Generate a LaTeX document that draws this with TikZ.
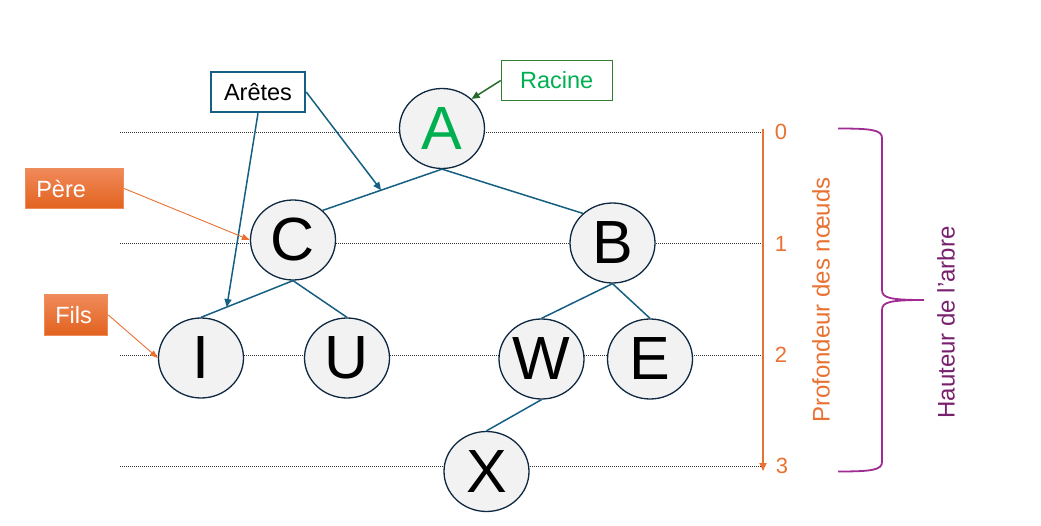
\documentclass[tikz,border=0pt]{standalone}
\usepackage{fontspec}
\setmainfont{Liberation Sans}
\usetikzlibrary{shapes.geometric,arrows.meta}
\definecolor{edgeblue}{HTML}{156082}
\definecolor{nodeborder}{HTML}{0E2841}
\definecolor{nodefill}{HTML}{F2F2F2}
\definecolor{rootgreen}{HTML}{00B050}
\definecolor{boxgreen}{HTML}{2E7D32}
\definecolor{orng}{HTML}{E97132}
\definecolor{orngtop}{HTML}{F08A5A}
\definecolor{orngbot}{HTML}{E2621E}
\definecolor{brace}{HTML}{A02B93}
\definecolor{darkpurple}{HTML}{78206E}
\tikzset{
  treenode/.style={ellipse, draw=nodeborder, line width=1.3pt, fill=nodefill,
    minimum width=85pt, minimum height=80pt, inner sep=0pt,
    font=\fontsize{61}{72}\selectfont},
  edge/.style={draw=edgeblue, line width=1.5pt},
  levelline/.style={draw=black!80, line width=1pt, dash pattern=on 1pt off 1pt},
  orangebox/.style={draw=orng!80!white, line width=0.8pt, top color=orngtop, bottom color=orngbot,
    text=white, font=\fontsize{23.5}{27}\selectfont, align=left, inner xsep=11pt,
    inner ysep=0pt, minimum height=40.5pt, anchor=center},
  orangearrow/.style={draw=orng, line width=0.9pt, -{Triangle[length=8pt,width=6pt]}},
  bluearrow/.style={draw=edgeblue, line width=1.5pt, -{Triangle[length=8pt,width=7pt]}},
  label23/.style={font=\fontsize{23.5}{27}\selectfont},
  depthnum/.style={text=orng, font=\fontsize{22}{26}\selectfont},
}
\begin{document}
\begin{tikzpicture}[x=1pt,y=-1pt]
\useasboundingbox (0,0) rectangle (1041,526);
% level lines
\foreach \yy/\nm in {132.5/0,244/1,355.5/2,466.5/3}{
  \coordinate (L\nm a) at (120,\yy);
  \coordinate (L\nm b) at (763,\yy);
  \draw[levelline] (L\nm a) -- (L\nm b);
}
% tree nodes
\node[treenode, text=rootgreen] (A) at (442,128.5) {A};
\node[treenode] (C) at (293,240) {C};
\node[treenode] (B) at (612.5,243) {B};
\node[treenode] (I) at (201,358) {I};
\node[treenode] (U) at (347,358) {U};
\node[treenode] (W) at (541.5,359) {W};
\node[treenode] (E) at (650,359) {E};
\node[treenode] (X) at (486.5,471.5) {X};
% edges
\draw[edge] (A.south) -- coordinate[pos=0.51] (mAC) (C.45);
\draw[edge] (A.south) -- (B.135);
\draw[edge] (C.south) -- coordinate[pos=0.72] (mCI) (I.north);
\draw[edge] (C.south) -- (U.north);
\draw[edge] (B.south) -- (W.north);
\draw[edge] (B.south) -- (E.north);
\draw[edge] (W.south) -- (X.north);
% Racine
\node[draw=boxgreen, line width=1pt, text=rootgreen, label23, minimum width=111pt, minimum height=40.5pt, inner sep=0pt] (rac) at (556.7,80.5) {Racine};
\draw[draw=boxgreen!85!black, line width=1.5pt, -{Triangle[length=8pt,width=7pt]}] (rac.west) -- (A.45);
% Aretes
\node[draw=edgeblue, line width=2pt, label23, minimum width=94.5pt, minimum height=40.5pt, inner sep=0pt] (are) at (258,92) {Arêtes};
\draw[bluearrow] (are.south) -- (mCI);
\draw[bluearrow] (are.east) -- (mAC);
% Pere / Fils
\node[orangebox, text width=76.4pt] (pere) at (74.5,188.5) {Père};
\node[orangebox, text width=41.4pt] (fils) at (76,314.8) {Fils};
\draw[orangearrow] (pere.east) -- (C.west);
\draw[orangearrow] (fils.east) -- (I.west);
% depth axis
\coordinate (ax0) at (763,129);
\coordinate (ax1) at (763,471);
\draw[draw=orng, line width=1.8pt, -{Triangle[length=8pt,width=7pt]}] (ax0) -- (ax1);
\node[depthnum] (d0) at (781,132) {0};
\node[depthnum] (d1) at (781,243.5) {1};
\node[depthnum] (d2) at (781,355) {2};
\node[depthnum] (d3) at (782,466) {3};
\node[rotate=90, text=orng, font=\fontsize{24}{28}\selectfont] (prof) at (821,300) {Profondeur des nœuds};
% brace
\draw[draw=brace, line width=1.8pt]
  (838,128.5) .. controls (872,128.5) and (882,130) .. (882,138)
  -- (882,290) .. controls (882,298) and (890,300) .. (924,300)
  .. controls (890,300) and (882,302) .. (882,310)
  -- (882,462) .. controls (882,470) and (872,471.5) .. (838,471.5);
\node[rotate=90, text=darkpurple, font=\fontsize{24}{28}\selectfont] (haut) at (946,322.5) {Hauteur de l’arbre};
\end{tikzpicture}
\end{document}
